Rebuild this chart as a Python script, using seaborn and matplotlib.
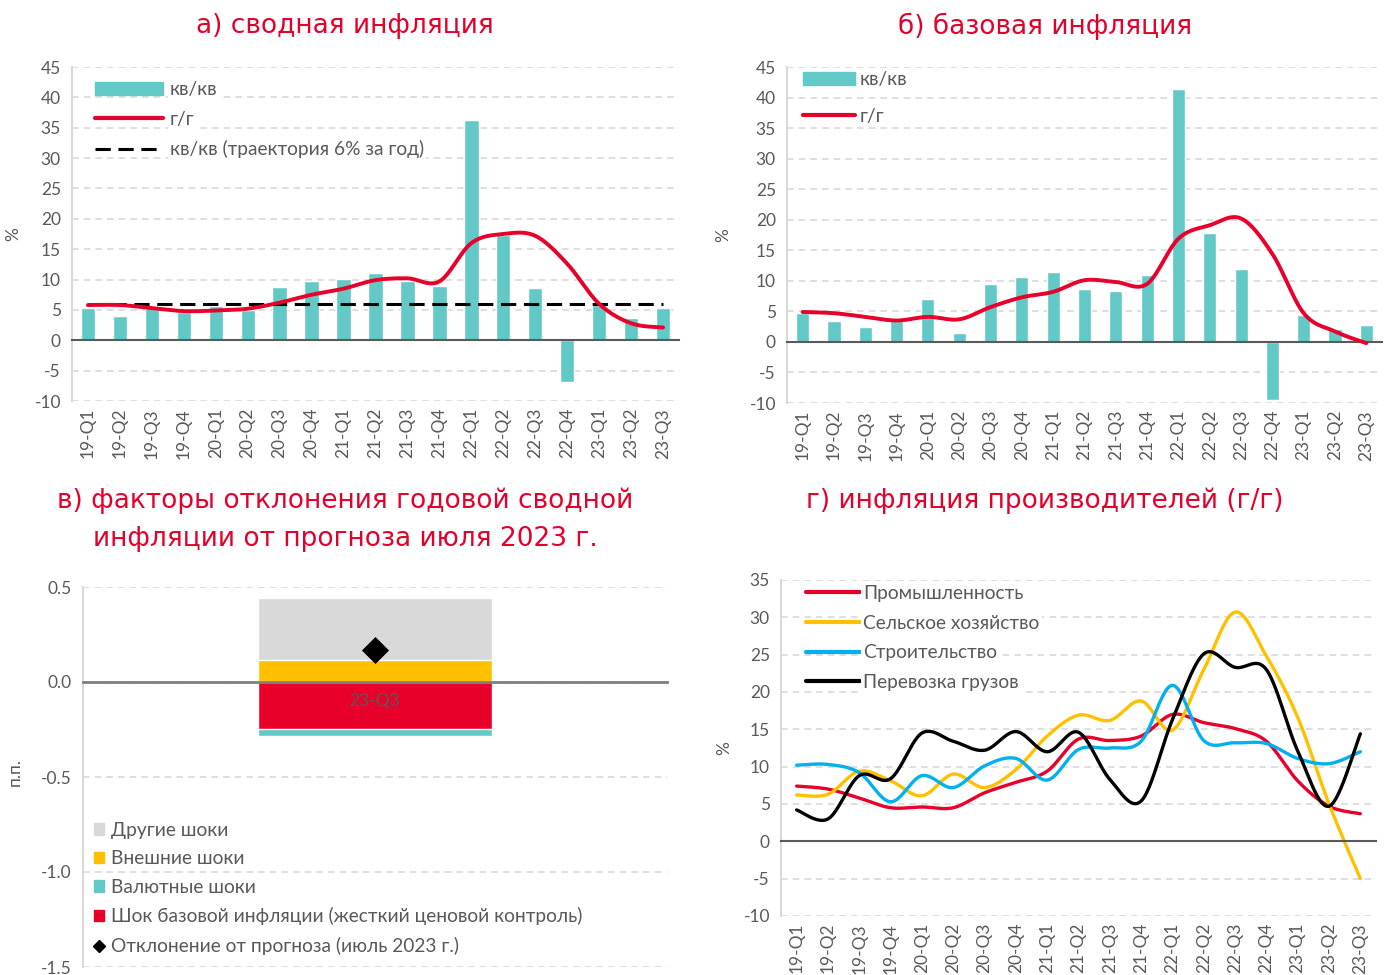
import numpy as np
import matplotlib.pyplot as plt
from matplotlib.lines import Line2D
from matplotlib.patches import Patch
import seaborn as sns

# ---- data ----
quarters = ["19-Q1", "19-Q2", "19-Q3", "19-Q4", "20-Q1", "20-Q2", "20-Q3", "20-Q4",
            "21-Q1", "21-Q2", "21-Q3", "21-Q4", "22-Q1", "22-Q2", "22-Q3", "22-Q4",
            "23-Q1", "23-Q2", "23-Q3"]

# а) сводная инфляция
headline_qq = [5.3, 4.0, 5.3, 4.6, 5.6, 5.0, 8.7, 9.7, 10.1, 11.0, 9.7, 8.9,
               36.3, 17.3, 8.6, -6.9, 5.8, 3.7, 5.3]
headline_yy = [5.8, 5.8, 5.3, 4.8, 4.9, 5.2, 6.2, 7.5, 8.5, 9.9, 10.2, 9.7,
               16.0, 17.5, 17.2, 12.6, 6.0, 2.8, 2.1]
target_qq = 6.0

# б) базовая инфляция
core_qq = [4.7, 3.5, 2.5, 3.5, 7.0, 1.5, 9.4, 10.7, 11.5, 8.6, 8.4, 10.9,
           41.4, 17.8, 12.0, -9.5, 4.4, 2.1, 2.7]
core_yy = [4.9, 4.7, 4.1, 3.5, 4.1, 3.7, 5.7, 7.3, 8.2, 10.1, 9.8, 9.5,
           16.9, 19.1, 20.2, 14.4, 4.7, 1.7, -0.2]

# в) факторы отклонения (п.п.)
dev_quarter = ["23-Q3"]
other_shocks = 0.33
external_shocks = 0.114
fx_shocks = -0.035
core_shock = -0.248
forecast_dev = 0.168

# г) инфляция производителей (г/г)
industry = [7.4, 7.0, 5.8, 4.5, 4.6, 4.5, 6.5, 7.9, 9.4, 13.7, 13.5, 14.1,
            17.0, 15.9, 15.1, 13.4, 8.1, 4.7, 3.7]
agriculture = [6.2, 6.3, 9.4, 8.1, 6.1, 9.0, 7.2, 9.6, 14.1, 16.9, 16.2, 18.8,
               14.9, 23.0, 30.7, 24.8, 16.6, 5.0, -5.0]
construction = [10.2, 10.3, 9.2, 5.3, 8.8, 7.2, 10.1, 11.1, 8.2, 12.3, 12.5, 13.4,
                20.9, 13.5, 13.2, 13.1, 11.1, 10.4, 12.0]
freight = [4.2, 3.0, 8.8, 8.4, 14.5, 13.4, 12.2, 14.7, 12.0, 14.6, 8.3, 5.4,
           16.3, 25.1, 23.3, 23.0, 12.1, 4.7, 14.4]

# ---- style ----
TEAL = "#62c9c7"
RED = "#e8002b"
ORANGE = "#ffc000"
GRAY = "#d9d9d9"
BLUE = "#00b0f0"
TXT = "#595959"
TITLE = "#e4002b"
LEG_FS = 13.8

sns.set_style("white")
plt.rcParams["font.family"] = ["Lato", "DejaVu Sans"]
plt.rcParams["axes.unicode_minus"] = False


def smooth(y, n=25):
    # excel-like smoothed line through the points (cubic bezier, catmull-rom)
    p = np.column_stack([np.arange(len(y), dtype=float), np.asarray(y, float)])
    pp = np.vstack([p[0], p, p[-1]])
    t = np.linspace(0, 1, n)[:, None]
    out = []
    for i in range(len(p) - 1):
        p0, p1, p2, p3 = pp[i], pp[i + 1], pp[i + 2], pp[i + 3]
        c1 = p1 + (p2 - p0) / 6
        c2 = p2 - (p3 - p1) / 6
        seg = (1 - t) ** 3 * p1 + 3 * (1 - t) ** 2 * t * c1 + 3 * (1 - t) * t ** 2 * c2 + t ** 3 * p2
        out.append(seg if i == 0 else seg[1:])
    out = np.vstack(out)
    return out[:, 0], out[:, 1]


def style_axis(ax, ylim, step, n):
    ax.set_ylim(*ylim)
    ax.set_yticks(np.arange(ylim[0], ylim[1] + step / 2, step))
    ax.yaxis.grid(True, color=GRAY, linestyle=(0, (4, 3)), linewidth=1.2)
    ax.set_axisbelow(True)
    for s in ["top", "right"]:
        ax.spines[s].set_visible(False)
    ax.spines["left"].set_color(GRAY)
    ax.spines["left"].set_linewidth(1.5)
    ax.tick_params(axis="y", length=5, color=GRAY, labelcolor=TXT, labelsize=12.5, pad=3)
    ax.set_xlim(-0.5, n - 0.5)
    ax.spines["bottom"].set_position(("data", 0))
    ax.spines["bottom"].set_color(TXT)
    ax.spines["bottom"].set_linewidth(1.5)
    ax.set_xticks(np.arange(-0.5, n), minor=True)
    ax.tick_params(axis="x", which="minor", length=5, width=1.5, color=TXT)
    ax.set_xlabel("")
    ax.set_ylabel("")


def bottom_labels(ax, labels):
    ax.set_xticks(range(len(labels)))
    ax.tick_params(axis="x", which="major", length=0, labelbottom=False)
    sec = ax.secondary_xaxis(0.0)
    sec.set_xticks(range(len(labels)), labels=labels, rotation=90)
    sec.tick_params(length=0, pad=5, labelcolor=TXT, labelsize=12.5)
    sec.spines["bottom"].set_visible(False)


def legend(ax, handles, labels, **kw):
    leg = ax.legend(handles, labels, borderaxespad=0, borderpad=0, fontsize=LEG_FS,
                    frameon=False, labelcolor=TXT, **kw)
    # white box only behind the legend texts, like excel
    for t in leg.get_texts():
        t.set_bbox(dict(facecolor="white", edgecolor="none", pad=1.5))
    return leg


fig = plt.figure(figsize=(13.92, 9.75), dpi=100)
n = len(quarters)

# ---- а) ----
ax1 = fig.add_axes([72 / 1392, 1 - 401 / 975, 607 / 1392, 334 / 975])
sns.barplot(x=quarters, y=headline_qq, color=TEAL, saturation=1, width=0.45, ax=ax1)
ax1.hlines(target_qq, 0, n - 1, color="black", linewidth=2.2, linestyle=(0, (5, 2.5)), zorder=3)
sx, sy = smooth(headline_yy)
sns.lineplot(x=sx, y=sy, color=RED, linewidth=2.8, sort=False, estimator=None, ax=ax1, zorder=4)
style_axis(ax1, (-10, 45), 5, n)
bottom_labels(ax1, quarters)
ax1.set_ylabel("%", color=TXT, fontsize=12.5)
ax1.yaxis.set_label_coords(-0.084, 0.5)
h1 = [Patch(color=TEAL), Line2D([], [], color=RED, lw=3),
      Line2D([], [], color="black", lw=2.2, linestyle=(0, (5, 2.5)))]
legend(ax1, h1, ["кв/кв", "г/г", "кв/кв (траектория 6% за год)"], loc="upper left",
       bbox_to_anchor=(0.038, 0.958), handlelength=3.55, handletextpad=0.35, labelspacing=0.66)

# ---- б) ----
ax2 = fig.add_axes([787 / 1392, 1 - 403 / 975, 595 / 1392, 336 / 975])
sns.barplot(x=quarters, y=core_qq, color=TEAL, saturation=1, width=0.42, ax=ax2)
sx, sy = smooth(core_yy)
sns.lineplot(x=sx, y=sy, color=RED, linewidth=2.8, sort=False, estimator=None, ax=ax2, zorder=4)
style_axis(ax2, (-10, 45), 5, n)
bottom_labels(ax2, quarters)
ax2.set_ylabel("%", color=TXT, fontsize=12.5)
ax2.yaxis.set_label_coords(-0.094, 0.5)
h2 = [Patch(color=TEAL), Line2D([], [], color=RED, lw=3)]
legend(ax2, h2, ["кв/кв", "г/г"], loc="upper left",
       bbox_to_anchor=(0.027, 0.988), handlelength=2.7, handletextpad=0.25, labelspacing=1.03)

# ---- в) ----
ax3 = fig.add_axes([83 / 1392, 1 - 967 / 975, 584 / 1392, 380 / 975])
sns.barplot(x=dev_quarter, y=[other_shocks + external_shocks], color=GRAY, saturation=1, width=0.4, ax=ax3)
sns.barplot(x=dev_quarter, y=[external_shocks], color=ORANGE, saturation=1, width=0.4, ax=ax3)
sns.barplot(x=dev_quarter, y=[core_shock + fx_shocks], color=TEAL, saturation=1, width=0.4, ax=ax3)
sns.barplot(x=dev_quarter, y=[core_shock], color=RED, saturation=1, width=0.4, ax=ax3)
sns.scatterplot(x=[0], y=[forecast_dev], marker="D", s=190, color="black", linewidth=0, ax=ax3, zorder=5)
ax3.set_ylim(-1.5, 0.5)
ax3.set_yticks(np.arange(-1.5, 0.51, 0.5))
ax3.yaxis.set_major_formatter(plt.FuncFormatter(lambda v, p: f"{v:.1f}"))
ax3.yaxis.grid(True, color=GRAY, linestyle=(0, (4, 3)), linewidth=1.2)
ax3.set_axisbelow(True)
for s in ["top", "right"]:
    ax3.spines[s].set_visible(False)
ax3.spines["left"].set_color(GRAY)
ax3.spines["left"].set_linewidth(1.5)
ax3.tick_params(axis="y", length=5, color=GRAY, labelcolor=TXT, labelsize=12.5, pad=3)
ax3.set_xlim(-0.5, 0.5)
ax3.spines["bottom"].set_position(("data", 0))
ax3.spines["bottom"].set_color("#7f7f7f")
ax3.spines["bottom"].set_linewidth(2)
ax3.set_xticks([-0.5, 0.5], minor=True)
ax3.tick_params(axis="x", which="minor", length=5, width=1.5, color="#7f7f7f")
ax3.set_xticks([0], labels=dev_quarter)
ax3.tick_params(axis="x", which="major", length=0, pad=8, labelcolor=TXT, labelsize=12.5)
ax3.xaxis.set_zorder(4)
ax3.set_xlabel("")
ax3.set_ylabel("п.п.", color=TXT, fontsize=12.5)
ax3.yaxis.set_label_coords(-0.103, 0.513)
h3 = [Patch(color=GRAY), Patch(color=ORANGE), Patch(color=TEAL), Patch(color=RED),
      Line2D([], [], color="black", marker="D", markersize=6, linestyle="none")]
legend(ax3, h3, ["Другие шоки", "Внешние шоки", "Валютные шоки",
                 "Шок базовой инфляции (жесткий ценовой контроль)",
                 "Отклонение от прогноза (июль 2023 г.)"],
       loc="lower left", bbox_to_anchor=(0.018, 0.032),
       handlelength=0.55, handleheight=0.55, handletextpad=0.35, labelspacing=0.6)

# ---- г) ----
ax4 = fig.add_axes([781 / 1392, 1 - 916 / 975, 595 / 1392, 336 / 975])
series = [("Промышленность", industry, RED), ("Сельское хозяйство", agriculture, ORANGE),
          ("Строительство", construction, BLUE), ("Перевозка грузов", freight, "black")]
for name, vals, col in series:
    sx, sy = smooth(vals)
    sns.lineplot(x=sx, y=sy, color=col, linewidth=2.4, sort=False, estimator=None, ax=ax4)
style_axis(ax4, (-10, 35), 5, n)
bottom_labels(ax4, quarters)
ax4.set_ylabel("%", color=TXT, fontsize=12.5)
ax4.yaxis.set_label_coords(-0.082, 0.5)
h4 = [Line2D([], [], color=c, lw=3) for _, _, c in series]
legend(ax4, h4, [s[0] for s in series], loc="upper left",
       bbox_to_anchor=(0.042, 0.985), handlelength=2.8, handletextpad=0.2, labelspacing=0.66)

# ---- titles ----
tkw = dict(ha="center", va="center", color=TITLE, fontsize=19, family=["DejaVu Sans"])
fig.text(345 / 1392, 1 - 26 / 975, "а) сводная инфляция", **tkw)
fig.text(1045 / 1392, 1 - 26 / 975, "б) базовая инфляция", **tkw)
fig.text(345 / 1392, 1 - 520 / 975, "в) факторы отклонения годовой сводной\nинфляции от прогноза июля 2023 г.",
         linespacing=1.6, **tkw)
fig.text(1045 / 1392, 1 - 501 / 975, "г) инфляция производителей (г/г)", **tkw)

fig.savefig("out.png", dpi=100)
